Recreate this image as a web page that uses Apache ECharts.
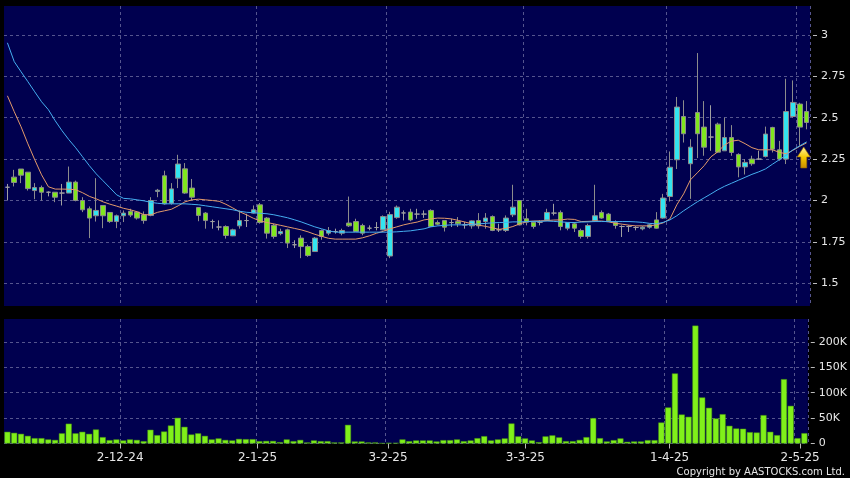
<!DOCTYPE html>
<html>
<head>
<meta charset="utf-8">
<script src="https://cdn.jsdelivr.net/npm/echarts@6/dist/echarts.min.js"></script>
<style>
html,body{margin:0;padding:0;background:#000;}
#main{width:850px;height:478px;}
</style>
</head>
<body>
<div id="main"></div>
<script>
const dates = [
'7-11-24','8-11-24','11-11-24','12-11-24','13-11-24','14-11-24','15-11-24','18-11-24','19-11-24','20-11-24','21-11-24','22-11-24','25-11-24','26-11-24','27-11-24','28-11-24','29-11-24',
'2-12-24','3-12-24','4-12-24','5-12-24','6-12-24','9-12-24','10-12-24','11-12-24','12-12-24','13-12-24','16-12-24','17-12-24','18-12-24','19-12-24','20-12-24','23-12-24','24-12-24','27-12-24','30-12-24','31-12-24',
'2-1-25','3-1-25','6-1-25','7-1-25','8-1-25','9-1-25','10-1-25','13-1-25','14-1-25','15-1-25','16-1-25','17-1-25','20-1-25','21-1-25','22-1-25','23-1-25','24-1-25','27-1-25','28-1-25',
'3-2-25','4-2-25','5-2-25','6-2-25','7-2-25','10-2-25','11-2-25','12-2-25','13-2-25','14-2-25','17-2-25','18-2-25','19-2-25','20-2-25','21-2-25','24-2-25','25-2-25','26-2-25','27-2-25','28-2-25',
'3-3-25','4-3-25','5-3-25','6-3-25','7-3-25','10-3-25','11-3-25','12-3-25','13-3-25','14-3-25','17-3-25','18-3-25','19-3-25','20-3-25','21-3-25','24-3-25','25-3-25','26-3-25','27-3-25','28-3-25','31-3-25',
'1-4-25','2-4-25','3-4-25','7-4-25','8-4-25','9-4-25','10-4-25','11-4-25','14-4-25','15-4-25','16-4-25','17-4-25','22-4-25','23-4-25','24-4-25','25-4-25','28-4-25','29-4-25','30-4-25',
'2-5-25','6-5-25'];

const openP = [
2.08,2.141,2.19,2.171,2.06,2.078,2.05,2.05,2.045,2.045,
2.111,2.0,1.95,1.908,1.97,1.928,1.873,1.908,1.935,1.93,
1.914,1.91,2.055,2.149,1.984,2.135,2.191,2.075,1.958,1.924,
1.873,1.84,1.843,1.787,1.847,1.879,1.924,1.974,1.894,1.85,
1.8,1.823,1.733,1.773,1.722,1.692,1.819,1.803,1.813,1.803,
1.864,1.873,1.849,1.833,1.837,1.823,1.665,1.897,1.925,1.93,
1.918,1.918,1.94,1.867,1.879,1.867,1.873,1.853,1.847,1.879,
1.873,1.903,1.823,1.819,1.914,2.0,1.89,1.869,1.869,1.883,
1.924,1.928,1.833,1.859,1.819,1.783,1.879,1.928,1.918,1.867,
1.843,1.843,1.837,1.829,1.839,1.883,1.894,2.024,2.246,2.507,
2.222,2.531,2.443,2.383,2.461,2.30,2.38,2.278,2.203,2.25,
2.25,2.266,2.441,2.306,2.25,2.507,2.582,2.537];

const closeP = [
2.08,2.109,2.153,2.072,2.078,2.05,2.05,2.02,2.045,2.111,
2.0,1.944,1.894,1.94,1.908,1.873,1.908,1.924,1.912,1.894,
1.879,2.0,2.062,1.98,2.07,2.22,2.045,2.02,1.91,1.879,
1.873,1.84,1.789,1.823,1.879,1.879,1.944,1.867,1.803,1.783,
1.813,1.743,1.733,1.722,1.668,1.773,1.783,1.819,1.813,1.819,
1.847,1.813,1.803,1.833,1.837,1.903,1.915,1.96,1.925,1.883,
1.918,1.918,1.843,1.857,1.839,1.867,1.859,1.853,1.877,1.847,
1.894,1.819,1.823,1.894,1.96,1.853,1.869,1.843,1.869,1.928,
1.924,1.843,1.867,1.833,1.783,1.849,1.908,1.894,1.877,1.849,
1.843,1.843,1.837,1.839,1.853,1.833,2.015,2.201,2.564,2.403,
2.322,2.403,2.322,2.383,2.292,2.38,2.29,2.203,2.23,2.222,
2.25,2.401,2.31,2.25,2.537,2.592,2.443,2.471];

const lowP = [
2.0,2.085,2.105,2.06,2.008,2.0,2.025,1.99,1.97,2.045,
1.995,1.93,1.773,1.873,1.833,1.865,1.833,1.87,1.9,1.885,
1.86,1.905,2.02,1.975,1.975,2.075,2.04,2.0,1.875,1.83,
1.83,1.82,1.77,1.785,1.83,1.84,1.92,1.86,1.77,1.77,
1.79,1.713,1.713,1.652,1.66,1.69,1.763,1.79,1.8,1.79,
1.84,1.81,1.79,1.82,1.82,1.82,1.652,1.89,1.88,1.875,
1.89,1.895,1.84,1.85,1.813,1.84,1.84,1.83,1.83,1.83,
1.83,1.815,1.81,1.81,1.9,1.85,1.85,1.83,1.85,1.88,
1.91,1.82,1.82,1.81,1.77,1.77,1.87,1.89,1.87,1.83,
1.78,1.81,1.82,1.82,1.83,1.83,1.89,1.994,2.19,2.35,
2.01,2.256,2.27,2.3,2.29,2.30,2.27,2.14,2.157,2.21,
2.245,2.26,2.29,2.24,2.22,2.5,2.33,2.43];

const highP = [
2.10,2.185,2.19,2.171,2.105,2.09,2.055,2.05,2.1,2.205,
2.12,2.02,1.964,2.135,1.97,1.93,1.915,1.94,1.95,1.935,
1.934,2.02,2.07,2.18,2.105,2.276,2.226,2.13,1.96,1.93,
1.885,1.88,1.85,1.83,1.94,1.92,1.97,1.985,1.9,1.86,
1.83,1.83,1.76,1.79,1.733,1.78,1.825,1.84,1.83,1.83,
2.024,1.89,1.86,1.85,1.87,1.91,1.932,1.97,1.94,1.95,
1.95,1.94,1.947,1.88,1.88,1.89,1.9,1.87,1.88,1.924,
1.924,1.91,1.86,1.91,2.095,2.0,1.95,1.875,1.88,1.95,
1.98,1.94,1.87,1.87,1.83,1.86,2.095,1.94,1.925,1.88,
1.85,1.85,1.845,1.845,1.86,1.93,2.04,2.296,2.625,2.605,
2.37,2.89,2.6,2.575,2.47,2.5,2.455,2.285,2.25,2.27,
2.30,2.446,2.445,2.36,2.735,2.725,2.59,2.6];

const maShort = [
2.632,2.536,2.445,2.342,2.246,2.155,2.083,2.069,2.069,2.068,
2.065,2.047,2.025,2.010,1.992,1.978,1.966,1.953,1.944,1.932,
1.914,1.914,1.929,1.938,1.947,1.968,1.992,2.004,2.008,2.004,
2.000,1.995,1.977,1.955,1.932,1.914,1.893,1.877,1.867,1.859,
1.850,1.841,1.832,1.823,1.811,1.796,1.784,1.772,1.767,1.767,
1.767,1.767,1.775,1.787,1.802,1.814,1.829,1.841,1.853,1.862,
1.870,1.883,1.889,1.894,1.893,1.889,1.880,1.870,1.859,1.851,
1.844,1.835,1.826,1.832,1.843,1.859,1.873,1.876,1.877,1.879,
1.882,1.883,1.888,1.886,1.873,1.874,1.876,1.876,1.871,1.863,
1.857,1.851,1.847,1.847,1.847,1.853,1.865,1.889,1.974,2.040,
2.125,2.167,2.210,2.264,2.294,2.336,2.358,2.364,2.343,2.319,
2.306,2.306,2.306,2.291,2.282,2.303,2.327,2.348];

const maLong = [
2.952,2.838,2.777,2.717,2.656,2.596,2.548,2.481,2.421,2.367,
2.318,2.264,2.210,2.161,2.119,2.077,2.034,2.013,2.010,2.004,
1.998,1.989,1.983,1.980,1.980,1.980,1.980,1.977,1.974,1.968,
1.962,1.956,1.950,1.944,1.935,1.929,1.926,1.923,1.920,1.914,
1.905,1.896,1.884,1.871,1.856,1.841,1.829,1.817,1.809,1.809,
1.809,1.809,1.809,1.809,1.809,1.809,1.809,1.811,1.814,1.817,
1.823,1.829,1.841,1.847,1.850,1.853,1.853,1.853,1.856,1.859,
1.862,1.865,1.867,1.868,1.871,1.871,1.873,1.874,1.874,1.876,
1.874,1.871,1.868,1.867,1.870,1.871,1.873,1.873,1.873,1.873,
1.873,1.873,1.871,1.868,1.862,1.859,1.868,1.883,1.908,1.938,
1.965,1.992,2.016,2.040,2.065,2.086,2.104,2.122,2.140,2.158,
2.173,2.191,2.219,2.246,2.273,2.306,2.330,2.354];

const volume = [
23000,21000,19000,15000,10500,10500,8000,7000,20000,39000,
20000,23000,19000,27600,12500,6600,8000,6000,8000,7000,
4600,27000,16400,23600,35400,50500,32800,17700,20000,15000,
8000,10000,7000,6000,9000,8500,8500,4600,5000,5000,
2600,8000,4600,7000,2000,6000,4600,4600,2000,2000,
36700,4000,4000,2000,2000,700,1300,1300,8000,4600,
6000,6000,6000,4000,6600,6600,8000,4600,6000,10500,
14400,6000,8000,10000,39400,14000,10000,6000,2600,14000,
16000,12000,4600,4600,7000,12500,49900,10500,4000,6600,
10000,3300,4000,4000,6600,6600,41300,70900,137800,57000,
52500,232000,90600,70200,49200,57700,34800,29500,29000,22300,
21600,55800,23000,16400,126600,74100,10500,20300];

const priceTicks = [1.5, 1.75, 2, 2.25, 2.5, 2.75, 3];
const volumeTicks = [0, 50000, 100000, 150000, 200000];
const labelDates = ['2-12-24', '2-1-25', '3-2-25', '3-3-25', '1-4-25', '2-5-25'];
const signalDate = '2-5-25';
const signalPrice = 2.26;
const copyrightText = 'Copyright by AASTOCKS.com Ltd.';

const labelSet = new Set(labelDates);
const showAt = (i) => labelSet.has(dates[i]);
const candleData = dates.map((d, i) => [openP[i], closeP[i], lowP[i], highP[i]]);

const gridLine = { show: true, lineStyle: { color: '#55558e', width: 1, type: [3, 3] } };
const labelColor = '#e6e6e6';
const fontFam = '"DejaVu Sans", Verdana, sans-serif';

const chart = echarts.init(document.getElementById('main'), null, { renderer: 'canvas' });
chart.setOption({
  animation: false,
  backgroundColor: '#000000',
  grid: [
    { left: 4, right: 40, top: 6, height: 300, show: true, backgroundColor: '#00004f', borderWidth: 0 },
    { left: 4, right: 40, top: 319, height: 124.5, show: true, backgroundColor: '#00004f', borderWidth: 0 },
    { left: -3.4, right: 39.6, top: 319, height: 124.5, show: false }
  ],
  xAxis: [
    { type: 'category', gridIndex: 0, data: dates, boundaryGap: true,
      axisLine: { show: false }, axisTick: { show: false }, axisLabel: { show: false },
      splitLine: Object.assign({ interval: (i) => showAt(i) }, gridLine) },
    { type: 'category', gridIndex: 1, data: dates, boundaryGap: true,
      axisLine: { show: false }, axisTick: { show: false }, axisLabel: { show: false },
      splitLine: Object.assign({ interval: (i) => showAt(i) }, gridLine) },
    { type: 'category', gridIndex: 2, data: dates, boundaryGap: true,
      axisLine: { show: false },
      axisTick: { show: true, alignWithLabel: true, interval: (i) => showAt(i), length: 5, lineStyle: { color: '#bbbbbb' } },
      axisLabel: { show: true, interval: (i) => showAt(i), color: labelColor, fontSize: 12, fontFamily: fontFam, margin: 8 },
      splitLine: { show: false } }
  ],
  yAxis: [
    { type: 'value', gridIndex: 0, position: 'right', min: 1.3633, max: 3.174, offset: 3,
      axisLine: { show: false },
      axisTick: { show: true, length: 4, customValues: priceTicks, lineStyle: { color: '#bbbbbb' } },
      axisLabel: { show: true, customValues: priceTicks, margin: 8, color: labelColor, fontSize: 11, fontFamily: fontFam,
        formatter: (v) => String(v) },
      splitLine: gridLine },
    { type: 'value', gridIndex: 1, position: 'right', min: 0, max: 245000, offset: 3,
      axisLine: { show: false },
      axisTick: { show: true, length: 4, customValues: volumeTicks, lineStyle: { color: '#bbbbbb' } },
      axisLabel: { show: true, customValues: volumeTicks, margin: 8, color: labelColor, fontSize: 11, fontFamily: fontFam,
        formatter: (v) => v === 0 ? '0' : (v / 1000) + 'K' },
      splitLine: gridLine },
    { type: 'value', gridIndex: 2, show: false }
  ],
  series: [
    { type: 'candlestick', xAxisIndex: 0, yAxisIndex: 0, data: candleData, barWidth: 5, z: 3,
      itemStyle: { color: '#33e4f0', color0: '#80e61e', borderColor: '#8c8c8c', borderColor0: '#8c8c8c', borderColorDoji: '#a0a0a0', borderWidth: 1 },
      markPoint: { silent: true, animation: false,
        data: [{ coord: [signalDate, signalPrice],
          symbol: 'path://M6.5,0 L13,10 L9.5,10 L9.5,21 L3.5,21 L3.5,10 L0,10 Z',
          symbolSize: [13, 21], symbolOffset: [4, 0], symbolKeepAspect: false,
          itemStyle: { color: { type: 'linear', x: 0, y: 0, x2: 0, y2: 1,
            colorStops: [{ offset: 0, color: '#fff6a8' }, { offset: 0.5, color: '#f5c800' }, { offset: 1, color: '#c88a00' }] },
            borderColor: '#9a6800', borderWidth: 0.6 },
          label: { show: false } }] } },
    { type: 'line', xAxisIndex: 0, yAxisIndex: 0, data: maShort, symbol: 'none', z: 4,
      lineStyle: { color: '#e39a6a', width: 1 } },
    { type: 'line', xAxisIndex: 0, yAxisIndex: 0, data: maLong, symbol: 'none', z: 4,
      lineStyle: { color: '#45aef0', width: 1 } },
    { type: 'bar', xAxisIndex: 1, yAxisIndex: 1, data: volume, barWidth: 6,
      itemStyle: { color: '#80f01a', borderColor: '#4a9a10', borderWidth: 0.5 } }
  ],
  graphic: [
    { type: 'text', right: 5, bottom: 1,
      style: { text: copyrightText, fill: '#e6e6e6', font: '10px "DejaVu Sans", Verdana, sans-serif' } }
  ]
});
</script>
</body>
</html>
